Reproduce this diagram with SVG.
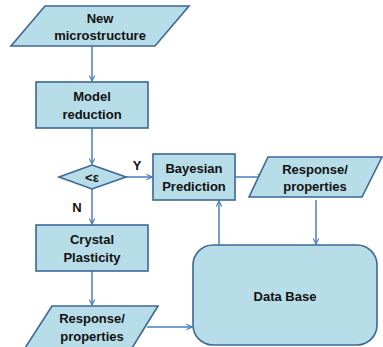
<svg xmlns="http://www.w3.org/2000/svg" width="383" height="347" viewBox="0 0 383 347">
<defs>
<style>
.s{fill:#b7dde8;stroke:#3d6796;stroke-width:1.6}
.t{font-family:"Liberation Sans",Arial,sans-serif;font-weight:bold;font-size:13px;fill:#111;text-anchor:middle}
.c{fill:none;stroke:#4a7ebb;stroke-width:1.5;marker-end:url(#a)}
</style>
<marker id="a" viewBox="0 0 10 10" refX="9" refY="5" markerWidth="7" markerHeight="7" orient="auto" markerUnits="userSpaceOnUse">
<path d="M1,1 L9,5 L1,9" fill="none" stroke="#4a7ebb" stroke-width="1.6"/>
</marker>
</defs>
<rect width="383" height="347" fill="#fff"/>
<g id="connectors">
<line class="c" x1="92" y1="46" x2="92" y2="81"/>
<line class="c" x1="92" y1="128" x2="92" y2="164"/>
<line class="c" x1="126" y1="177" x2="152" y2="177"/>
<line class="c" x1="92" y1="189" x2="92" y2="224"/>
<line class="c" x1="92" y1="271" x2="92" y2="305"/>
<line class="c" x1="147" y1="327" x2="192" y2="327"/>
<line class="c" x1="219" y1="245" x2="219" y2="201"/>
<line class="c" x1="235" y1="177" x2="263" y2="177"/>
<line class="c" x1="316" y1="200" x2="316" y2="244"/>
<text class="t" x="137" y="170">Y</text>
<text class="t" x="77" y="212">N</text>
</g>
<g id="new-microstructure">
<polygon class="s" points="45,6 189,6 155,46 11,46"/>
<text class="t" x="100" y="23">New</text>
<text class="t" x="100" y="40">microstructure</text>
</g>
<g id="model-reduction">
<rect class="s" x="36" y="82" width="112" height="46"/>
<text class="t" x="92" y="101">Model</text>
<text class="t" x="92" y="119">reduction</text>
</g>
<g id="decision">
<polygon class="s" points="92,165 126,177 92,189 59,177"/>
<text class="t" x="92" y="182">&lt;ε</text>
</g>
<g id="bayesian-prediction">
<rect class="s" x="153" y="154" width="82" height="46"/>
<text class="t" x="194" y="173">Bayesian</text>
<text class="t" x="194" y="191">Prediction</text>
</g>
<g id="response-right">
<polygon class="s" points="268,157 382,157 362,197 249,197"/>
<text class="t" x="315" y="174">Response/</text>
<text class="t" x="315" y="191">properties</text>
</g>
<g id="crystal-plasticity">
<rect class="s" x="36" y="225" width="112" height="46"/>
<text class="t" x="92" y="244">Crystal</text>
<text class="t" x="92" y="262">Plasticity</text>
</g>
<g id="response-bottom">
<polygon class="s" points="52,306 158,306 132,348 25,348"/>
<text class="t" x="92" y="323">Response/</text>
<text class="t" x="92" y="341">properties</text>
</g>
<g id="data-base">
<rect class="s" x="193" y="245" width="184" height="100" rx="20" ry="20"/>
<text class="t" x="285" y="301">Data Base</text>
</g>
</svg>
